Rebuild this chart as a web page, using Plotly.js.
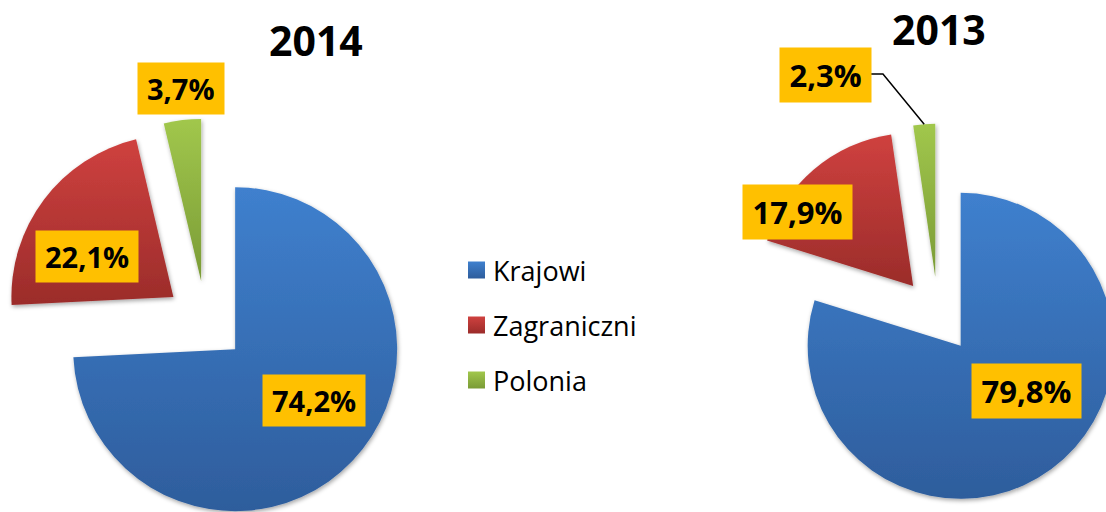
<!DOCTYPE html>
<html>
<head>
<meta charset="utf-8">
<script src="https://cdn.plot.ly/plotly-3.0.1.min.js"></script>
<style>
html,body{margin:0;padding:0;overflow:hidden;background:#fff;width:1106px;height:512px}
#chart{width:1200px;height:560px}
</style>
</head>
<body>
<div id="chart"></div>
<script>
// ---- data ----
const categories = ['Krajowi', 'Zagraniczni', 'Polonia'];
const years = ['2014', '2013'];
const values2014 = [74.2, 22.1, 3.7];
const values2013 = [79.8, 17.9, 2.3];

// ---- styles ----
const baseColors = ['#3670B6', '#B93735', '#8EB441'];
const colorsTop = ['#3F80CE', '#CF413F', '#A1C74C'];
const colorsBottom = ['#2E5D9C', '#9B2C2A', '#7A9B36'];
const W = 1200, H = 560;
const FONT = 'Open Sans, Noto Sans, sans-serif';

// label placement per pie / slice: [radial, tangential] in radius units from slice vertex
const labelPlacement = [
  [[0.57, -0.105], [0.575, -0.12], [1.196, 0.017]],
  [[0.49, -0.17], [0.86, -0.26], [1.368, -0.621]]
];
const labelFont = [29, 31];
const labelPad = [9, 9.5];
const labelHeight = [33, 35];
const leaderFor = [[false, false, false], [false, false, true]];

function fmt(v) { return v.toFixed(1).replace('.', ',') + '%'; }
function px2x(p) { return p / W; }
function py2y(p) { return 1 - p / H; }

function pie(values, name, dom) {
  return {
    type: 'pie', labels: categories, values: values, name: name,
    sort: false, direction: 'clockwise', rotation: 0, pull: 0.25,
    textinfo: 'none', hoverinfo: 'none',
    marker: {colors: baseColors.slice(), line: {width: 0}},
    domain: dom
  };
}

const data = [
  pie(values2014, years[0], {x: [0.00275, 0.34025], y: [0.06464, 0.78786]}),
  pie(values2013, years[1], {x: [0.62229, 0.94104], y: [0.09598, 0.77902]})
];

const titleAnns = [
  {text: '<b>' + years[0] + '</b>', x: px2x(316), y: py2y(40)},
  {text: '<b>' + years[1] + '</b>', x: px2x(939), y: py2y(29)}
].map(a => Object.assign(a, {xref: 'paper', yref: 'paper', xanchor: 'center', yanchor: 'middle',
  showarrow: false, font: {family: FONT, size: 41, color: '#000'}}));

const layout = {
  width: W, height: H,
  margin: {l: 0, r: 0, t: 0, b: 0},
  paper_bgcolor: '#fff',
  showlegend: true,
  legend: {font: {family: FONT, size: 27, color: '#000'}, x: 0.38, y: 0.5, bgcolor: 'rgba(0,0,0,0)'},
  annotations: titleAnns
};

const gd = document.getElementById('chart');
const canvas = document.createElement('canvas');
const ctx = canvas.getContext('2d');

Plotly.newPlot(gd, data, layout, {staticPlot: true}).then(() => {
  const anns = titleAnns.slice();
  const shapes = [];
  gd.calcdata.forEach((cd, t) => {
    const cd0 = cd[0];
    const tr = cd0.trace;
    const r = cd0.r;
    cd.forEach((pt, k) => {
      const pull = Array.isArray(tr.pull) ? tr.pull[k] : tr.pull;
      const dx = pt.pxmid[0] / r, dy = pt.pxmid[1] / r;
      const vx = cd0.cx + pull * pt.pxmid[0], vy = cd0.cy + pull * pt.pxmid[1];
      const a = labelPlacement[t][k][0], b = labelPlacement[t][k][1];
      const lx = vx + r * (a * dx - b * dy);
      const ly = vy + r * (a * dy + b * dx);
      const txt = fmt(pt.v);
      anns.push({
        text: '<b>' + txt + '</b>', x: px2x(lx), y: py2y(ly), xref: 'paper', yref: 'paper',
        xanchor: 'center', yanchor: 'middle', showarrow: false,
        bgcolor: '#FFC000', borderpad: labelPad[t], height: labelHeight[t],
        font: {family: FONT, size: labelFont[t], color: '#000'}
      });
      if (leaderFor[t][k]) {
        ctx.font = 'bold ' + labelFont[t] + 'px Open Sans';
        const halfW = ctx.measureText(txt).width / 2 + labelPad[t];
        const x1 = lx + halfW, y1 = ly - 1;
        const x2 = x1 + 12;
        const tx = vx + pt.pxmid[0], ty = vy + pt.pxmid[1];
        shapes.push({type: 'path', xref: 'paper', yref: 'paper', layer: 'above',
          path: `M${px2x(x1)},${py2y(y1)} L${px2x(x2)},${py2y(y1)} L${px2x(tx)},${py2y(ty)}`,
          line: {color: '#000', width: 1.5}});
      }
    });
  });
  return Plotly.relayout(gd, {annotations: anns, shapes: shapes});
}).then(() => {
  const ns = 'http://www.w3.org/2000/svg';
  const svg = gd.querySelector('svg.main-svg');
  const defs = document.createElementNS(ns, 'defs');
  for (let i = 0; i < 3; i++) {
    const g = document.createElementNS(ns, 'linearGradient');
    g.setAttribute('id', 'grad' + i);
    g.setAttribute('x1', '0'); g.setAttribute('y1', '0');
    g.setAttribute('x2', '0'); g.setAttribute('y2', '1');
    const s1 = document.createElementNS(ns, 'stop');
    s1.setAttribute('offset', '0'); s1.setAttribute('stop-color', colorsTop[i]);
    const s2 = document.createElementNS(ns, 'stop');
    s2.setAttribute('offset', '1'); s2.setAttribute('stop-color', colorsBottom[i]);
    g.appendChild(s1); g.appendChild(s2);
    defs.appendChild(g);
  }
  const f = document.createElementNS(ns, 'filter');
  f.setAttribute('id', 'shadow');
  f.setAttribute('x', '-20%'); f.setAttribute('y', '-20%');
  f.setAttribute('width', '140%'); f.setAttribute('height', '140%');
  const ds = document.createElementNS(ns, 'feDropShadow');
  ds.setAttribute('dx', '1'); ds.setAttribute('dy', '2');
  ds.setAttribute('stdDeviation', '2');
  ds.setAttribute('flood-color', '#000'); ds.setAttribute('flood-opacity', '0.35');
  f.appendChild(ds);
  defs.appendChild(f);
  svg.insertBefore(defs, svg.firstChild);

  gd.querySelectorAll('.pielayer .trace').forEach(trEl => {
    trEl.querySelectorAll('g.slice').forEach((s, k) => {
      const p = s.querySelector('path.surface');
      if (p) { p.style.fill = 'url(#grad' + k + ')'; p.setAttribute('filter', 'url(#shadow)'); }
    });
  });

  const leg = gd.querySelector('g.legend');
  if (leg) {
    leg.setAttribute('transform', 'translate(453,270)');
    const sb = leg.querySelector('.scrollbox');
    if (sb) { sb.removeAttribute('clip-path'); sb.setAttribute('transform', ''); }
    leg.querySelectorAll('g.groups').forEach(g => g.setAttribute('transform', ''));
    leg.querySelectorAll('g.traces').forEach((g, i) => g.setAttribute('transform', 'translate(0,' + (i * 55) + ')'));
    leg.querySelectorAll('path.legendpie').forEach((p, i) => {
      p.setAttribute('d', 'M8.5,8.5H-8.5V-8.5H8.5Z');
      p.setAttribute('transform', 'translate(23.5,0)');
      p.style.fill = 'url(#grad' + (i % 3) + ')';
      p.style.strokeWidth = '0';
    });
  }
});
</script>
</body>
</html>
